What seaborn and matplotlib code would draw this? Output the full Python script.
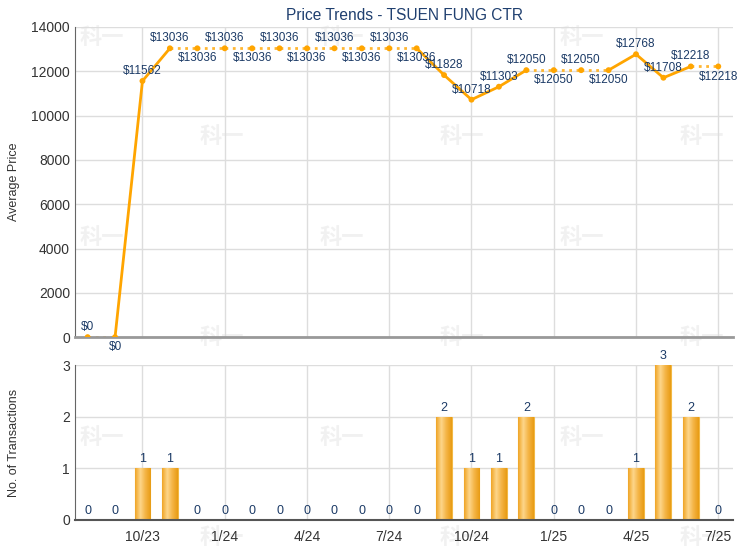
import matplotlib
matplotlib.use("Agg")
import matplotlib.pyplot as plt
import seaborn as sns
import numpy as np
import pandas as pd
from matplotlib.colors import LinearSegmentedColormap

# chart data
months = ['8/23', '9/23', '10/23', '11/23', '12/23', '1/24', '2/24', '3/24', '4/24', '5/24',
          '6/24', '7/24', '8/24', '9/24', '10/24', '11/24', '12/24', '1/25', '2/25', '3/25',
          '4/25', '5/25', '6/25', '7/25']
prices = [0, 0, 11562, 13036, 13036, 13036, 13036, 13036, 13036, 13036, 13036, 13036, 13036,
          11828, 10718, 11303, 12050, 12050, 12050, 12050, 12768, 11708, 12218, 12218]
counts = [0, 0, 1, 1, 0, 0, 0, 0, 0, 0, 0, 0, 0, 2, 1, 1, 2, 0, 0, 0, 1, 3, 2, 0]
tick_months = ['10/23', '1/24', '4/24', '7/24', '10/24', '1/25', '4/25', '7/25']

df = pd.DataFrame({'month': months, 'price': prices, 'count': counts})
df['pos'] = np.arange(len(df))

sns.set_style("whitegrid")
plt.rcParams['font.family'] = ['Liberation Sans', 'DejaVu Sans']

navy = '#1B3A66'
orange = '#FFA500'

fig = plt.figure(figsize=(7.4, 5.5), dpi=100)
ax1 = fig.add_axes([0.101, 0.387, 0.890, 0.564])
ax2 = fig.add_axes([0.101, 0.055, 0.890, 0.281])

# faint watermark
for row in range(6):
    y = 1 - (37 + row * 100) / 550
    xs = [80, 320, 560] if row % 2 == 0 else [200, 440, 680]
    for x in xs:
        fig.text((x + 22) / 740, y, '科一', ha='center', va='center', fontsize=16,
                 fontweight='bold', color='#F1F1F1', zorder=-1,
                 family=['Noto Sans CJK SC', 'DejaVu Sans'])

tick_pos = [months.index(m) for m in tick_months]

for ax in (ax1, ax2):
    ax.patch.set_alpha(0)
    ax.set_xlim(-0.47, 23.55)
    ax.set_xticks(tick_pos)
    ax.grid(True, color='#DDDDDD', linewidth=1)
    ax.set_axisbelow(True)
    for s in ('top', 'right'):
        ax.spines[s].set_visible(False)
    ax.spines['left'].set_color('#666666')
    ax.tick_params(axis='y', length=0, labelsize=10, labelcolor='#333333')

# price line: dotted where the month had no transactions
for i in range(1, len(df)):
    dotted = df['count'][i] == 0
    ax1.plot(df['pos'][i - 1:i + 1], df['price'][i - 1:i + 1],
             color='#FFB733' if dotted else orange,
             linestyle=':' if dotted else '-', linewidth=2, zorder=2)
sns.scatterplot(data=df, x='pos', y='price', ax=ax1, color=orange, s=18,
                edgecolor='none', zorder=3, legend=False)

# labels alternate above/below inside a flat run
above = True
for i, p in enumerate(prices):
    if i > 0 and p == prices[i - 1] and above:
        above = False
    else:
        above = True
    if above:
        ax1.annotate(f'${p}', (i, p), xytext=(0, 3), textcoords='offset points',
                     ha='center', va='bottom', fontsize=8.5, color=navy)
    else:
        ax1.annotate(f'${p}', (i, p), xytext=(0, -3), textcoords='offset points',
                     ha='center', va='top', fontsize=8.5, color=navy)

ax1.set_ylim(0, 14000)
ax1.set_yticks(range(0, 14001, 2000))
ax1.set_xticklabels([])
ax1.tick_params(axis='x', length=0)
ax1.spines['bottom'].set_color('#999999')
ax1.spines['bottom'].set_linewidth(2)
ax1.set_xlabel('')
ax1.set_ylabel('Average Price', fontsize=9, color='#333333')
ax1.yaxis.set_label_coords(-0.0835, 0.5)
ax1.set_title('Price Trends - TSUEN FUNG CTR', fontsize=11.2, color='#1F3F6F', pad=5)

# transactions
sns.barplot(data=df, x='pos', y='count', ax=ax2, native_scale=True, width=0.58,
            color='#F0A828', edgecolor='#F2B845', linewidth=0.8, zorder=2)
cmap = LinearSegmentedColormap.from_list('gold', ['#F0A526', '#FDD68A', '#F4B344', '#E89C14'])
grad = np.linspace(0, 1, 64).reshape(1, -1)
for bar in ax2.patches:
    h = bar.get_height()
    if h <= 0:
        continue
    x0 = bar.get_x()
    im = ax2.imshow(grad, cmap=cmap, aspect='auto', zorder=2.5,
                    extent=[x0, x0 + bar.get_width(), 0, h])
    im.set_clip_path(bar)
for i, c in enumerate(counts):
    ax2.annotate(str(c), (i, c), xytext=(0, 2), textcoords='offset points',
                 ha='center', va='bottom', fontsize=9, color=navy)

ax2.set_xlim(-0.47, 23.55)
ax2.set_ylim(0, 3)
ax2.set_yticks([0, 1, 2, 3])
ax2.set_xticks(tick_pos)
ax2.set_xticklabels(tick_months)
ax2.tick_params(axis='x', length=4, color='#666666', labelsize=10, labelcolor='#333333')
ax2.spines['bottom'].set_color('#555555')
ax2.spines['bottom'].set_linewidth(1.5)
ax2.set_xlabel('')
ax2.set_ylabel('No. of Transactions', fontsize=9, color='#333333')
ax2.yaxis.set_label_coords(-0.0835, 0.5)

fig.savefig('out.png', dpi=100)
